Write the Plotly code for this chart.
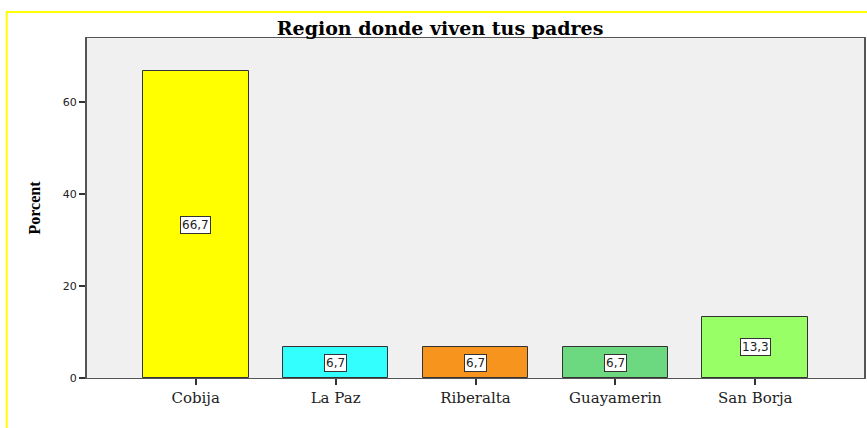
import plotly.graph_objects as go

categories = ["Cobija", "La Paz", "Riberalta", "Guayamerin", "San Borja"]
values = [66.7, 6.7, 6.7, 6.7, 13.3]
labels = ["66,7", "6,7", "6,7", "6,7", "13,3"]
colors = ["#ffff00", "#33ffff", "#f7941d", "#6cd880", "#99ff66"]
y_ticks = [0, 20, 40, 60]

W, H = 867, 428
L, R, T, B = 87, 1, 38, 50
pw, ph = W - L - R, H - T - B

fig = go.Figure()
fig.add_trace(go.Bar(
    x=categories, y=values, width=0.756,
    marker=dict(color=colors, line=dict(color="#333333", width=1)),
    hoverinfo="skip", showlegend=False,
))

for c, v, t in zip(categories, values, labels):
    fig.add_annotation(x=c, y=v / 2, text=t, showarrow=False,
                       font=dict(family="DejaVu Sans, Arial", size=12, color="#222"),
                       bgcolor="white", bordercolor="#333", borderwidth=1, borderpad=1)

def px_x(p):
    return (p - L) / pw

def px_y(p):
    return (H - B - p) / ph

fig.add_shape(type="rect", xref="paper", yref="paper",
              x0=px_x(6.5), x1=px_x(900), y0=px_y(12), y1=px_y(460),
              line=dict(color="#ffff00", width=2), fillcolor="rgba(0,0,0,0)", layer="below")

fig.update_layout(
    width=W, height=H,
    margin=dict(l=L, r=R, t=T, b=B),
    paper_bgcolor="white", plot_bgcolor="#f0f0f0",
    title=dict(text="<b>Region donde viven tus padres</b>", x=px_x(441), xref="paper", xanchor="center",
               y=1 - 28 / H, yanchor="middle",
               font=dict(family="DejaVu Serif, serif", size=19, color="black")),
    bargap=0,
    xaxis=dict(range=[-0.777, 4.777], showgrid=False, ticks="outside", ticklen=6, tickwidth=2,
               tickcolor="#333", showline=True, linecolor="#555", linewidth=1, mirror=True,
               tickfont=dict(family="DejaVu Serif, serif", size=15, color="#222")),
    yaxis=dict(range=[0, 73.9], tickvals=y_ticks, showgrid=False, zeroline=False, ticks="outside",
               ticklen=6, tickwidth=2, tickcolor="#333", showline=True, linecolor="#555", linewidth=2,
               mirror=True,
               tickfont=dict(family="DejaVu Sans, Arial", size=11, color="#222"),
               title=dict(text="<b>Porcent</b>", standoff=18,
                          font=dict(family="Liberation Serif, serif", size=16, color="black"))),
)

fig.write_html("out.html", config={"displayModeBar": False},
               post_script="document.body.style.margin='0';")
